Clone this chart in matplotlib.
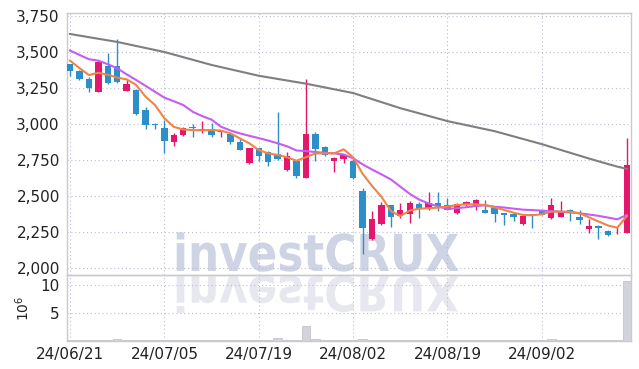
import numpy as np
import pandas as pd
import matplotlib
matplotlib.use("Agg")
import matplotlib.pyplot as plt
from matplotlib import font_manager
from matplotlib.textpath import TextPath
from matplotlib.patches import PathPatch
from matplotlib.font_manager import FontProperties
from matplotlib.transforms import Affine2D, IdentityTransform
from matplotlib.ticker import FuncFormatter

# =========================
# DATA (daily, KRW)
# =========================

dates = pd.bdate_range("2024-06-21", "2024-09-13")
dates = dates[dates != pd.Timestamp("2024-08-15")]  # holiday

opens = [3415, 3370, 3310, 3225, 3405, 3405, 3230, 3235, 3100, 3000,
         2975, 2878, 2922, 2980, 2948, 2968, 2942, 2930, 2875, 2728,
         2830, 2808, 2795, 2678, 2745, 2628, 2930, 2838, 2740, 2758,
         2745, 2535, 2200, 2303, 2437, 2358, 2376, 2445, 2410, 2448,
         2437, 2380, 2437, 2433, 2403, 2415, 2380, 2372, 2303, 2372,
         2402, 2345, 2357, 2403, 2352, 2270, 2292, 2256, 2235, 2245]
highs = [3420, 3375, 3325, 3435, 3490, 3590, 3305, 3240, 3115, 3010,
         3025, 2935, 2980, 3000, 3020, 3010, 2960, 2935, 2900, 2832,
         2835, 2815, 3085, 2808, 2750, 3310, 2942, 2845, 2768, 2795,
         2760, 2558, 2395, 2455, 2440, 2450, 2462, 2455, 2525, 2525,
         2488, 2448, 2465, 2478, 2470, 2420, 2382, 2375, 2362, 2375,
         2405, 2488, 2467, 2408, 2405, 2338, 2295, 2265, 2285, 2900]
lows = [3330, 3305, 3220, 3220, 3280, 3285, 3228, 3065, 2965, 2965,
        2800, 2850, 2920, 2910, 2940, 2910, 2912, 2860, 2818, 2725,
        2745, 2705, 2750, 2675, 2622, 2625, 2740, 2775, 2670, 2728,
        2620, 2100, 2195, 2300, 2285, 2350, 2310, 2345, 2400, 2398,
        2400, 2375, 2430, 2405, 2380, 2318, 2295, 2328, 2300, 2275,
        2365, 2340, 2355, 2325, 2303, 2240, 2200, 2225, 2233, 2240]
closes = [3365, 3310, 3250, 3430, 3285, 3295, 3275, 3070, 2995, 2995,
          2880, 2925, 2975, 2975, 2968, 2925, 2952, 2872, 2820, 2830,
          2775, 2738, 2755, 2780, 2640, 2930, 2828, 2782, 2762, 2785,
          2625, 2278, 2340, 2437, 2357, 2403, 2454, 2410, 2450, 2432,
          2405, 2442, 2460, 2472, 2385, 2375, 2368, 2352, 2360, 2366,
          2368, 2437, 2396, 2392, 2333, 2290, 2281, 2230, 2238, 2715]

# volume in millions of shares
volume = [0.1, 0.1, 0.1, 0.1, 0.1, 0.3, 0.1, 0.1, 0.1, 0.1,
          0.1, 0.1, 0.1, 0.1, 0.1, 0.1, 0.1, 0.1, 0.1, 0.1,
          0.1, 0.1, 0.5, 0.1, 0.1, 2.7, 0.3, 0.1, 0.1, 0.1,
          0.1, 0.4, 0.1, 0.1, 0.1, 0.1, 0.1, 0.1, 0.1, 0.1,
          0.1, 0.1, 0.1, 0.1, 0.1, 0.1, 0.1, 0.1, 0.1, 0.1,
          0.1, 0.4, 0.1, 0.1, 0.1, 0.1, 0.1, 0.1, 0.1, 10.7]

# moving averages
ma5 = [3440, 3388, 3340, 3356, 3342, 3322, 3310, 3272, 3190, 3132,
       3040, 2980, 2962, 2958, 2956, 2958, 2954, 2935, 2900, 2866,
       2819, 2796, 2785, 2769, 2745, 2769, 2796, 2796, 2796, 2824,
       2769, 2655, 2570, 2495, 2395, 2361, 2398, 2412, 2415, 2419,
       2426, 2437, 2442, 2442, 2437, 2421, 2403, 2384, 2368, 2366,
       2373, 2391, 2391, 2391, 2380, 2352, 2323, 2295, 2280, 2360]
ma20 = [3510, 3480, 3450, 3440, 3415, 3387, 3345, 3306, 3265, 3224,
        3183, 3158, 3132, 3085, 3055, 3030, 2981, 2955, 2935, 2918,
        2902, 2885, 2866, 2845, 2816, 2812, 2805, 2800, 2796, 2788,
        2762, 2720, 2684, 2650, 2615, 2565, 2515, 2475, 2448, 2428,
        2410, 2415, 2422, 2430, 2435, 2425, 2420, 2412, 2405, 2402,
        2398, 2395, 2391, 2386, 2380, 2371, 2362, 2350, 2338, 2368]
ma60 = [3625, 3614, 3603, 3592, 3581, 3570, 3556, 3542, 3528, 3514,
        3500, 3482, 3464, 3446, 3428, 3410, 3395, 3380, 3365, 3350,
        3335, 3324, 3313, 3302, 3291, 3280, 3267, 3254, 3241, 3228,
        3215, 3194, 3173, 3152, 3131, 3110, 3092, 3074, 3056, 3038,
        3020, 3006, 2992, 2978, 2964, 2950, 2932, 2914, 2896, 2878,
        2860, 2840, 2820, 2800, 2780, 2760, 2741, 2722, 2704, 2688]

# =========================
# STYLE
# =========================

UP = "#e3176b"
DOWN = "#2d8fca"
GRID = "#b9bdd0"
FRAME = "#c9c9d1"
TXT = "#222222"

names = {f.name for f in font_manager.fontManager.ttflist}
label_font = "Liberation Sans Narrow" if "Liberation Sans Narrow" in names else "DejaVu Sans"
plt.rcParams["font.family"] = [label_font, "DejaVu Sans"]

fig = plt.figure(figsize=(6.39, 3.69), dpi=100)
ax = fig.add_axes([0.1044, 0.2539, 0.8831, 0.7117])
axv = fig.add_axes([0.1044, 0.0759, 0.8831, 0.178], sharex=ax)

x = np.arange(len(closes))
o = np.array(opens)
c = np.array(closes)
colors = [UP if cc >= oo else DOWN for oo, cc in zip(o, c)]

# =========================
# CANDLES + MA
# =========================

ax.vlines(x, lows, highs, colors=colors, linewidth=1.0, zorder=3)
body_low = np.minimum(o, c)
body_h = np.maximum(np.abs(c - o), 4)
ax.bar(x, body_h, bottom=body_low, width=0.68, color=colors, zorder=4)

ax.plot(x, ma60, color="#7f7f7f", linewidth=1.5, zorder=5)
ax.plot(x, ma20, color="#c65cf2", linewidth=1.5, zorder=5)
ax.plot(x, ma5, color="#ef8446", linewidth=1.5, zorder=6)

ax.set_ylim(1949, 3773)
ax.set_xlim(-0.35, 59.45)
ax.set_yticks(np.arange(2000, 3751, 250))
ax.yaxis.set_major_formatter(FuncFormatter(lambda v, p: f"{int(v):,}"))

# =========================
# VOLUME
# =========================

axv.bar(x, volume, width=0.9, color="#d3d3da", edgecolor="#c4c4cc", linewidth=0.6, zorder=3)
axv.set_ylim(0, 11.7)
axv.set_yticks([5, 10])
axv.set_ylabel(r"$10^6$", fontsize=10, color=TXT, family="DejaVu Sans", labelpad=6)

tick_pos = [0, 10, 20, 30, 40, 50]
axv.set_xticks(tick_pos)
axv.set_xticklabels([dates[i].strftime("%y/%m/%d") for i in tick_pos])

for a in (ax, axv):
    a.grid(True, linestyle=(0, (1, 2.5)), color=GRID, linewidth=0.8, zorder=0)
    a.set_axisbelow(True)
    for s in a.spines.values():
        s.set_color(FRAME)
        s.set_linewidth(1.0)
    a.tick_params(length=0, colors=TXT, labelsize=11, pad=5)
ax.tick_params(labelbottom=False)
axv.tick_params(axis="x", pad=4)

# =========================
# WATERMARK
# =========================

tp = TextPath((0, 0), "investCRUX", size=50, prop=FontProperties(family="DejaVu Sans", weight="bold"))
ext = tp.get_extents()
H = 369
x0, x1 = 176.7, 458.3
top, base = 232.3, 271.7
sx = (x1 - x0) / ext.width
sy = (base - top) / ext.height
main_tr = Affine2D().translate(-ext.x0, -ext.y0).scale(sx, sy).translate(x0, H - base)
fig.add_artist(PathPatch(tp, transform=main_tr + IdentityTransform(),
                         facecolor="#c3cadf", edgecolor="none", alpha=0.8, zorder=2))
refl_tr = Affine2D().translate(-ext.x0, -ext.y0).scale(sx, -sy * 0.95).translate(x0, H - 275.5)
fig.add_artist(PathPatch(tp, transform=refl_tr + IdentityTransform(),
                         facecolor="#dfe1ea", edgecolor="none", alpha=0.75, zorder=2))

# patches drawn by the figure sit above axes; keep candles visible by redrawing them on top
ax.set_zorder(3)
ax.patch.set_alpha(0)
axv.set_zorder(3)
axv.patch.set_alpha(0)

fig.savefig("out.png", dpi=100, facecolor="white")
